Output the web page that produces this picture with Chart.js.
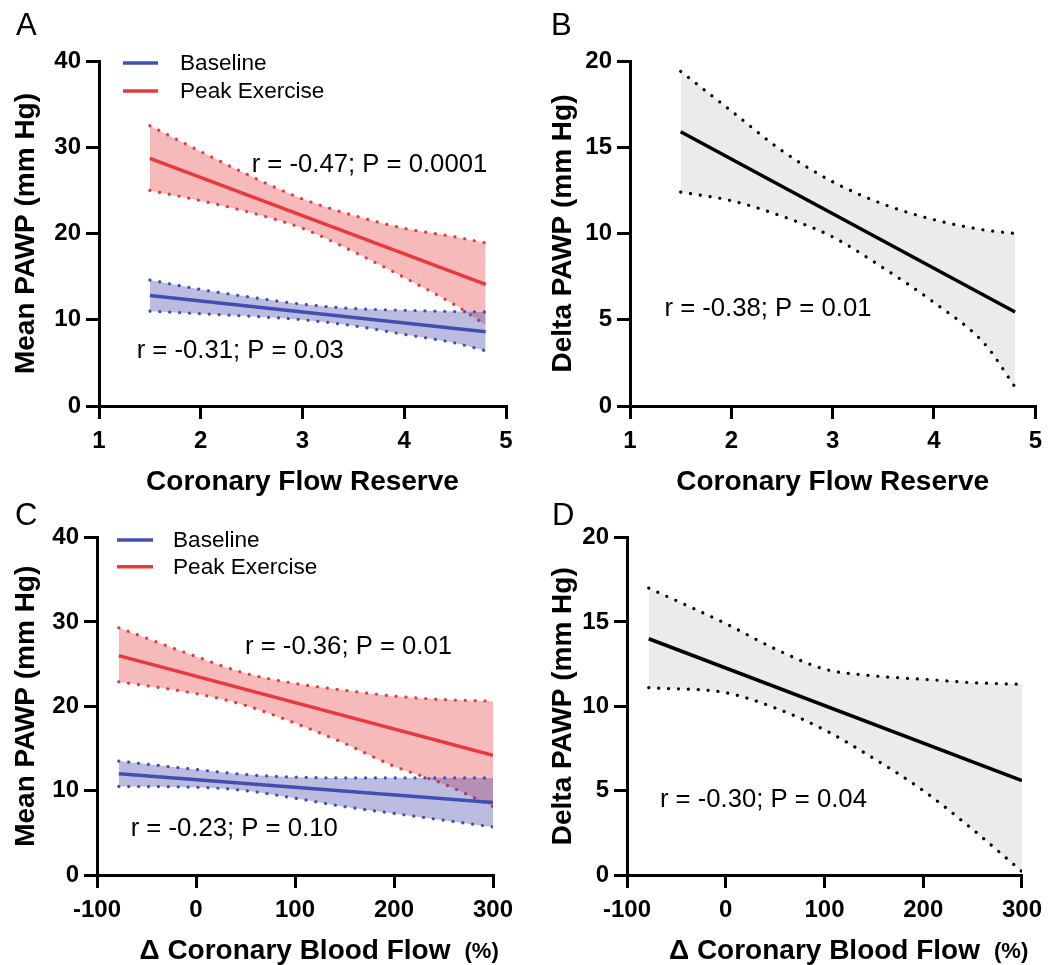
<!DOCTYPE html>
<html>
<head>
<meta charset="utf-8">
<script src="https://cdn.jsdelivr.net/npm/chart.js@4.4.1/dist/chart.umd.min.js"></script>
<style>
  body { margin: 0; background: #fff; }
  #wrap { position: relative; width: 1050px; height: 965px; }
  .panel { position: absolute; }
</style>
</head>
<body>
<div id="wrap">
  <div class="panel" style="left:0;top:0"><canvas id="chartA" width="525" height="500"></canvas></div>
  <div class="panel" style="left:525px;top:0"><canvas id="chartB" width="525" height="500"></canvas></div>
  <div class="panel" style="left:0;top:500px"><canvas id="chartC" width="525" height="465"></canvas></div>
  <div class="panel" style="left:525px;top:500px"><canvas id="chartD" width="525" height="465"></canvas></div>
</div>
<script>
const FONT = "'Liberation Sans', Arial, Helvetica, sans-serif";
const BLUE = '#3f4fb4';
const RED = '#e8393c';

// x positions (coronary flow reserve / delta coronary blood flow %)
const cfrX = [1.5, 2, 2.5, 3, 3.5, 4, 4.5, 4.8];
const cfrEnds = [1.5, 4.8];
const cfrTicks = [1, 2, 3, 4, 5];
const cbfX = [-78, 0, 50, 100, 150, 200, 250, 300];
const cbfEnds = [-78, 300];
const cbfTicks = [-100, 0, 100, 200, 300];
const meanTicks = [0, 10, 20, 30, 40];
const deltaTicks = [0, 5, 10, 15, 20];

// A - mean PAWP vs CFR
const aBaseLine = [12.8, 8.6];
const aBaseUpper = [14.6, 13.5, 12.6, 11.8, 11.3, 11.1, 10.95, 10.9];
const aBaseLower = [11.0, 10.7, 10.4, 10.0, 9.3, 8.3, 7.3, 6.4];
const aPeakLine = [28.7, 14.1];
const aPeakUpper = [32.5, 29.5, 26.6, 24.0, 22.1, 20.6, 19.6, 18.9];
const aPeakLower = [25.0, 23.8, 22.4, 20.6, 17.9, 14.9, 11.7, 9.4];

// B - delta PAWP vs CFR
const bLine = [15.9, 5.45];
const bUpper = [19.4, 17.1, 14.8, 13.0, 11.7, 10.8, 10.2, 10.0];
const bLower = [12.4, 11.9, 11.0, 9.8, 8.0, 6.0, 3.6, 1.1];

// C - mean PAWP vs delta CBF
const cBaseLine = [12.0, 8.6];
const cBaseUpper = [13.5, 12.5, 11.9, 11.6, 11.5, 11.5, 11.5, 11.5];
const cBaseLower = [10.5, 10.4, 10.0, 9.1, 8.1, 7.3, 6.5, 5.7];
const cPeakLine = [26.0, 14.2];
const cPeakUpper = [29.3, 25.9, 23.9, 22.7, 21.9, 21.2, 20.8, 20.6];
const cPeakLower = [22.9, 21.5, 20.1, 18.0, 15.6, 12.9, 10.8, 8.1];

// D - delta PAWP vs delta CBF
const dLine = [14.0, 5.6];
const dUpper = [17.0, 14.9, 13.4, 12.2, 11.8, 11.6, 11.4, 11.3];
const dLower = [11.1, 10.8, 9.9, 8.6, 6.9, 5.0, 2.7, 0.2];

function pts(xs, ys) {
  return xs.map((x, i) => ({ x: x, y: ys[i] }));
}

function fitLine(xs, ys, color, order) {
  return { data: pts(xs, ys), borderColor: color, borderWidth: 3.5, pointRadius: 0, fill: false, order: order };
}

// dotted CI edge; the upper one fills down to the next dataset
function ciEdge(xs, ys, color, fillColor, order) {
  return {
    data: pts(xs, ys), borderColor: color, borderWidth: 3.2, borderDash: [0.1, 9.8], borderCapStyle: 'round',
    pointRadius: 0, cubicInterpolationMode: 'monotone',
    fill: fillColor ? '+1' : false, backgroundColor: fillColor || 'transparent', order: order
  };
}

// letters, notes, legend and the (%) unit
function decor(p) {
  return {
    id: 'decor' + p.letter,
    afterDraw(chart) {
      const ctx = chart.ctx, ca = chart.chartArea;
      const xs = chart.scales.x, ys = chart.scales.y;
      ctx.save();
      ctx.fillStyle = '#000';
      ctx.textAlign = 'left';
      ctx.textBaseline = 'alphabetic';
      ctx.font = '31px ' + FONT;
      ctx.fillText(p.letter, p.letterPos[0], p.letterPos[1]);

      ctx.font = '25.7px ' + FONT;
      ctx.textBaseline = 'middle';
      p.notes.forEach(n => ctx.fillText(n.text, xs.getPixelForValue(n.x), ys.getPixelForValue(n.y)));

      if (p.legend) {
        const lg = p.legend;
        ctx.font = '22.6px ' + FONT;
        lg.items.forEach((it, i) => {
          const y = ca.top + lg.dy + i * lg.gap;
          ctx.strokeStyle = it.color;
          ctx.lineWidth = 3.5;
          ctx.beginPath();
          ctx.moveTo(ca.left + lg.x0, y);
          ctx.lineTo(ca.left + lg.x1, y);
          ctx.stroke();
          ctx.fillText(it.label, ca.left + lg.tx, y + 1);
        });
      }

      if (p.unit) {
        ctx.font = 'bold 28px ' + FONT;
        const w = ctx.measureText(p.xTitle).width;
        const cx = (ca.left + ca.right) / 2;
        const y = chart.height - 28 * 1.2 / 2 - p.xTitlePad;
        ctx.font = 'bold 22px ' + FONT;
        ctx.fillText(p.unit, cx + w / 2 + 14, y + 1);
      }
      ctx.restore();
    }
  };
}

function makeChart(p) {
  const axisFont = { family: FONT, size: 24, weight: 'bold' };
  const titleFont = { family: FONT, size: 28, weight: 'bold' };
  new Chart(document.getElementById(p.id), {
    type: 'line',
    data: { datasets: p.datasets },
    options: {
      responsive: false,
      animation: false,
      layout: { padding: { left: 0, top: p.box.top, right: p.box.right, bottom: 0 } },
      plugins: { legend: { display: false }, tooltip: { enabled: false } },
      scales: {
        x: {
          type: 'linear', min: p.xTicks[0], max: p.xTicks[p.xTicks.length - 1],
          afterBuildTicks: s => { s.ticks = p.xTicks.map(v => ({ value: v })); },
          afterFit: s => { s.height = p.box.xHeight; },
          border: { color: '#000', width: 3 },
          grid: { drawOnChartArea: false, color: '#000', lineWidth: 3, tickLength: 13 },
          ticks: { color: '#000', padding: 8, font: axisFont, maxRotation: 0, autoSkip: false },
          title: { display: true, text: p.xTitle, color: '#000', font: titleFont, padding: { top: 0, bottom: p.xTitlePad } }
        },
        y: {
          type: 'linear', min: p.yTicks[0], max: p.yTicks[p.yTicks.length - 1],
          afterBuildTicks: s => { s.ticks = p.yTicks.map(v => ({ value: v })); },
          afterFit: s => { s.width = p.box.left; },
          border: { color: '#000', width: 3 },
          grid: { drawOnChartArea: false, color: '#000', lineWidth: 3, tickLength: 13 },
          ticks: { color: '#000', padding: 5, font: axisFont, autoSkip: false },
          title: { display: true, text: p.yTitle, color: '#000', font: titleFont, padding: { top: p.yTitlePad, bottom: 0 } }
        }
      }
    },
    plugins: [decor(p)]
  });
}

const BLUE_BAND = 'rgba(63,63,170,0.35)';
const RED_BAND = 'rgba(232,57,59,0.35)';
const GRAY_BAND = '#ebebeb';
const legendItems = [{ label: 'Baseline', color: BLUE }, { label: 'Peak Exercise', color: RED }];

// two-series panels: red band under blue band, lines on top
function pairSets(xs, ends, baseLine, baseUp, baseLo, peakLine, peakUp, peakLo) {
  return [
    fitLine(ends, baseLine, BLUE, 0),
    fitLine(ends, peakLine, RED, 1),
    ciEdge(xs, baseUp, BLUE, BLUE_BAND, 3),
    ciEdge(xs, baseLo, BLUE, null, 2),
    ciEdge(xs, peakUp, RED, RED_BAND, 5),
    ciEdge(xs, peakLo, RED, null, 4)
  ];
}

function singleSets(xs, ends, line, up, lo) {
  return [
    fitLine(ends, line, '#000', 0),
    ciEdge(xs, up, '#000', GRAY_BAND, 2),
    ciEdge(xs, lo, '#000', null, 1)
  ];
}

makeChart({
  id: 'chartA', letter: 'A', letterPos: [16, 35],
  box: { left: 99, top: 61, right: 19, xHeight: 94 },
  xTicks: cfrTicks, yTicks: meanTicks,
  xTitle: 'Coronary Flow Reserve', xTitlePad: 1,
  yTitle: 'Mean PAWP (mm Hg)', yTitlePad: 9,
  datasets: pairSets(cfrX, cfrEnds, aBaseLine, aBaseUpper, aBaseLower, aPeakLine, aPeakUpper, aPeakLower),
  notes: [{ text: 'r = -0.47; P = 0.0001', x: 2.5, y: 27.9 }, { text: 'r = -0.31; P = 0.03', x: 1.37, y: 6.4 }],
  legend: { items: legendItems, x0: 24, x1: 59, tx: 81, dy: 2, gap: 28 }
});

makeChart({
  id: 'chartB', letter: 'B', letterPos: [26, 35],
  box: { left: 105, top: 61, right: 13, xHeight: 94 },
  xTicks: cfrTicks, yTicks: deltaTicks,
  xTitle: 'Coronary Flow Reserve', xTitlePad: 1,
  yTitle: 'Delta PAWP (mm Hg)', yTitlePad: 21,
  datasets: singleSets(cfrX, cfrEnds, bLine, bUpper, bLower),
  notes: [{ text: 'r = -0.38; P = 0.01', x: 1.34, y: 5.6 }]
});

makeChart({
  id: 'chartC', letter: 'C', letterPos: [15, 25],
  box: { left: 97, top: 37.5, right: 32, xHeight: 90 },
  xTicks: cbfTicks, yTicks: meanTicks,
  xTitle: '\u0394 Coronary Blood Flow', xTitlePad: -3, unit: '(%)',
  yTitle: 'Mean PAWP (mm Hg)', yTitlePad: 9,
  datasets: pairSets(cbfX, cbfEnds, cBaseLine, cBaseUpper, cBaseLower, cPeakLine, cPeakUpper, cPeakLower),
  notes: [{ text: 'r = -0.36; P = 0.01', x: 49.5, y: 27.05 }, { text: 'r = -0.23; P = 0.10', x: -66, y: 5.5 }],
  legend: { items: legendItems, x0: 20, x1: 56, tx: 76, dy: 2.5, gap: 26.7 }
});

makeChart({
  id: 'chartD', letter: 'D', letterPos: [27, 25],
  box: { left: 102, top: 37.5, right: 27, xHeight: 90 },
  xTicks: cbfTicks, yTicks: deltaTicks,
  xTitle: '\u0394 Coronary Blood Flow', xTitlePad: -3, unit: '(%)',
  yTitle: 'Delta PAWP (mm Hg)', yTitlePad: 21,
  datasets: singleSets(cbfX, cbfEnds, dLine, dUpper, dLower),
  notes: [{ text: 'r = -0.30; P = 0.04', x: -66.7, y: 4.45 }]
});
</script>
</body>
</html>
